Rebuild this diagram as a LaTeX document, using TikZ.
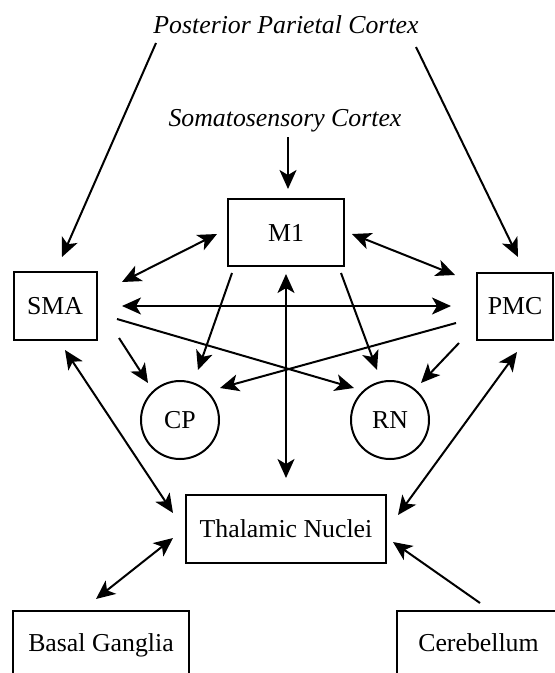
\documentclass[tikz,border=0pt]{standalone}
\usepackage{fontspec}
\setmainfont{Liberation Serif}
\usetikzlibrary{arrows.meta}
\begin{document}
\begin{tikzpicture}[x=1pt,y=-1pt,
  every node/.style={font=\fontsize{25.8}{30}\selectfont, text height=17pt, text depth=0pt, inner sep=0pt},
  box/.style={draw, line width=2pt},
  circ/.style={draw, circle, line width=2pt, minimum size=78pt},
  lbl/.style={font=\fontsize{25.8}{30}\selectfont\itshape, anchor=base},
  tip/.tip={Stealth[length=19pt,width=17pt,inset=5pt]},
  con/.style={line width=2pt, -tip},
  bicon/.style={line width=2pt, tip-tip}
]
\useasboundingbox[fill=white] (0,0) rectangle (555,673);
% nodes
\node[lbl] (PPC) at (286,33) {Posterior Parietal Cortex};
\node[lbl] (SC) at (285,126) {Somatosensory Cortex};
\node[box, minimum width=116pt, minimum height=67pt] (M1) at (286,232.5) {M1};
\node[box, minimum width=83pt, minimum height=68pt] (SMA) at (55,306) {SMA};
\node[box, minimum width=76pt, minimum height=67pt] (PMC) at (515,306) {PMC};
\node[circ] (CP) at (180,420) {CP};
\node[circ] (RN) at (390,420) {RN};
\node[box, minimum width=200pt, minimum height=68pt] (TN) at (286,529) {Thalamic Nuclei};
\node[box, minimum width=176pt, minimum height=64pt] (BG) at (101,643) {Basal Ganglia};
\node[box, minimum width=163pt, minimum height=64pt] (CB) at (478.5,643) {Cerebellum};
% connector end points
\coordinate (ppcL) at (156,43);  \coordinate (smaT) at (62,257);
\coordinate (ppcR) at (416,47);  \coordinate (pmcT) at (518,257);
\coordinate (scB) at (288,137);  \coordinate (m1T) at (288,189);
\coordinate (m1L) at (217,234);  \coordinate (smaR1) at (122,282);
\coordinate (m1R) at (352,234);  \coordinate (pmcL1) at (455,275);
\coordinate (smaR2) at (122,306); \coordinate (pmcL2) at (451,306);
\coordinate (m1BL) at (232,273); \coordinate (cpT) at (198,370);
\coordinate (m1BR) at (341,273); \coordinate (rnT) at (377,370);
\coordinate (smaR3) at (119,338); \coordinate (cpL) at (148,383);
\coordinate (pmcL3) at (459,343); \coordinate (rnR) at (421,383);
\coordinate (smaR4) at (117,319); \coordinate (rnL) at (354,388);
\coordinate (pmcL4) at (456,323); \coordinate (cpR) at (220,388);
\coordinate (m1B) at (286,274);  \coordinate (tnT) at (286,478);
\coordinate (smaB) at (65,350);  \coordinate (tnL1) at (173,513);
\coordinate (pmcB) at (517,352); \coordinate (tnR1) at (398,515);
\coordinate (tnL2) at (173,538); \coordinate (bgT) at (96,599);
\coordinate (cbT) at (480,603);  \coordinate (tnR2) at (393,542);
% connectors
\draw[con] (ppcL) -- (smaT);
\draw[con] (ppcR) -- (pmcT);
\draw[con] (scB) -- (m1T);
\draw[bicon] (m1L) -- (smaR1);
\draw[bicon] (m1R) -- (pmcL1);
\draw[bicon] (smaR2) -- (pmcL2);
\draw[con] (m1BL) -- (cpT);
\draw[con] (m1BR) -- (rnT);
\draw[con] (smaR3) -- (cpL);
\draw[con] (pmcL3) -- (rnR);
\draw[con] (smaR4) -- (rnL);
\draw[con] (pmcL4) -- (cpR);
\draw[bicon] (m1B) -- (tnT);
\draw[bicon] (smaB) -- (tnL1);
\draw[bicon] (pmcB) -- (tnR1);
\draw[bicon] (tnL2) -- (bgT);
\draw[con] (cbT) -- (tnR2);
\end{tikzpicture}
\end{document}
